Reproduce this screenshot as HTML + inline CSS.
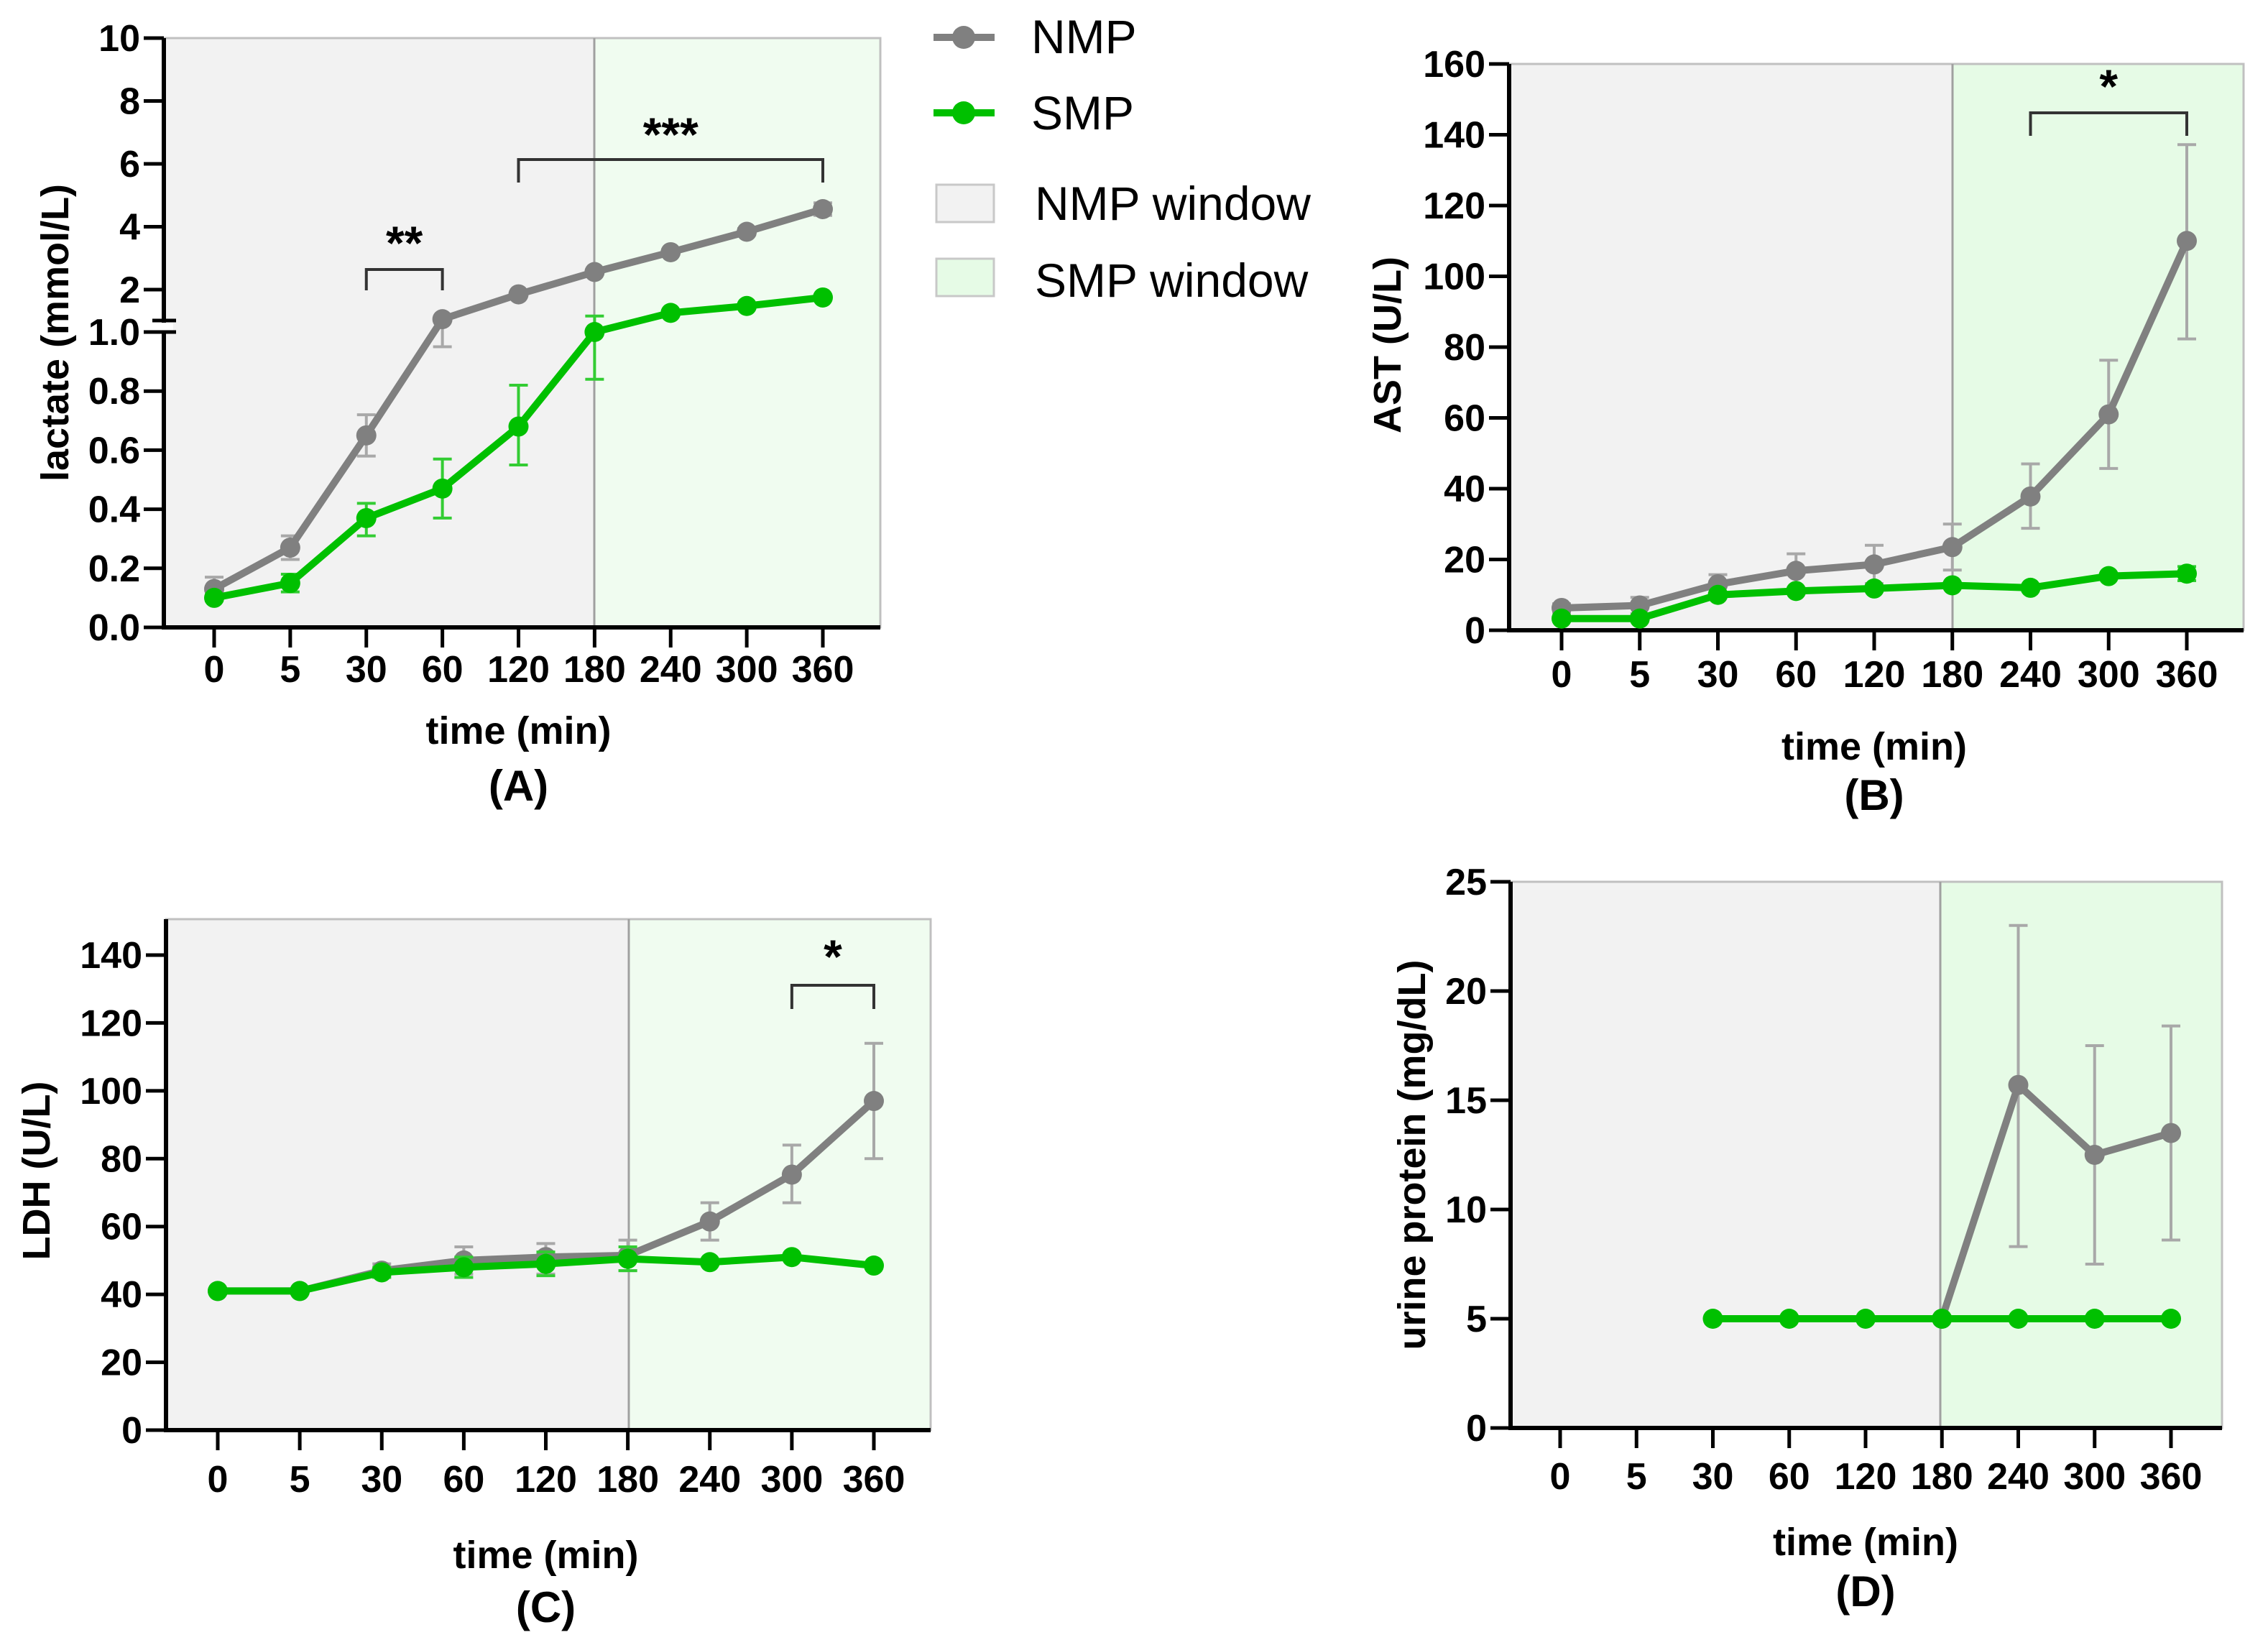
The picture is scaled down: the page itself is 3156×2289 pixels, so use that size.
<!DOCTYPE html>
<html><head><meta charset="utf-8"><style>
html,body{margin:0;padding:0;background:#fff;}
svg{display:block;font-family:"Liberation Sans",Arial,sans-serif;}
</style></head><body>
<svg id="fig" width="3156" height="2289" viewBox="0 0 3156 2289" xmlns="http://www.w3.org/2000/svg">
<g id="legend">
  <g>
    <line x1="1299" y1="52" x2="1384" y2="52" stroke="#808080" stroke-width="10"/>
    <circle cx="1341" cy="52" r="16" fill="#808080"/>
    <text x="1435" y="74" font-size="66" fill="#000">NMP</text>
  </g>
  <g>
    <line x1="1299" y1="157" x2="1384" y2="157" stroke="#00c000" stroke-width="10"/>
    <circle cx="1341" cy="157" r="16" fill="#00c000"/>
    <text x="1435" y="180" font-size="66" fill="#000">SMP</text>
  </g>
  <g>
    <rect x="1303" y="257" width="80" height="52" fill="#f2f2f2" stroke="#c8c8c8" stroke-width="3"/>
    <text x="1440" y="306" font-size="66" fill="#000">NMP window</text>
  </g>
  <g>
    <rect x="1303" y="360" width="80" height="52" fill="#e6fbe6" stroke="#c8c8c8" stroke-width="3"/>
    <text x="1440" y="413" font-size="66" fill="#000">SMP window</text>
  </g>
</g>
</svg>
<script>
// ---- shared categories ----
const timeLabels = ["0","5","30","60","120","180","240","300","360"];

// ---- Panel A: lactate ----
const lacNMP   = [0.13,0.27,0.65,1.06,1.85,2.56,3.19,3.84,4.56];
const lacNMPlo = [0.10,0.23,0.58,0.95,1.80,2.50,3.12,3.74,4.36];
const lacNMPhi = [0.17,0.31,0.72,1.12,1.90,2.62,3.26,3.94,4.76];
const lacSMP   = [0.10,0.15,0.37,0.47,0.68,1.00,1.26,1.48,1.75];
const lacSMPlo = [0.09,0.12,0.31,0.37,0.55,0.84,1.22,1.44,1.70];
const lacSMPhi = [0.11,0.18,0.42,0.57,0.82,1.16,1.30,1.52,1.80];
const lacTicksLow = [0,0.2,0.4,0.6,0.8,1.0];
const lacTicksHigh = [2,4,6,8,10];

// ---- Panel B: AST ----
const astNMP   = [6.3,7,13,16.8,18.6,23.5,37.8,61,110];
const astNMPlo = [5,4.7,10.3,12,13.2,17,28.8,45.7,82.3];
const astNMPhi = [7.5,9.3,15.7,21.6,24,30,47,76.3,137.2];
const astSMP   = [3.3,3.3,10,11.1,11.8,12.7,12,15.3,16];
const astSMPlo = [3.3,3.3,10,11.1,11.8,12.7,12,15.3,14];
const astSMPhi = [3.3,3.3,10,11.1,11.8,12.7,12,15.3,18];
const astTicks = [0,20,40,60,80,100,120,140,160];

// ---- Panel C: LDH ----
const ldhNMP   = [41,41,47,50,51,51.5,61.5,75.3,97];
const ldhNMPlo = [41,41,45,46,46,47,56,67,80];
const ldhNMPhi = [41,41,49,54,55,56,67,84,114];
const ldhSMP   = [41,41,46.5,48,49,50.5,49.5,51,48.5];
const ldhSMPlo = [41,41,45,45,45.5,47,49.5,51,48.5];
const ldhSMPhi = [41,41,48,51,52.5,54,49.5,51,48.5];
const ldhTicks = [0,20,40,60,80,100,120,140];

// ---- Panel D: urine protein ----
const upNMP   = [null,null,null,null,null,5,15.7,12.5,13.5];
const upNMPlo = [null,null,null,null,null,5,8.3,7.5,8.6];
const upNMPhi = [null,null,null,null,null,5,23,17.5,18.4];
const upSMP   = [null,null,5,5,5,5,5,5,5];
const upTicks = [0,5,10,15,20,25];

const NS = "http://www.w3.org/2000/svg";
const svg = document.getElementById('fig');
function mk(tag, attrs, parent){
  const e = document.createElementNS(NS, tag);
  for (const k in attrs) e.setAttribute(k, attrs[k]);
  (parent||svg).appendChild(e);
  return e;
}
const GRAY="#808080", GREEN="#00c000", ERRG="#a8a8a8", ERRGR="#33cc33";

function panel(cfg){
  const g = mk('g',{});
  
  
  const n = timeLabels.length;
  const xs = i => cfg.x0 + i*(cfg.x8-cfg.x0)/(n-1);
  const y = cfg.yScale;
  const bg1 = mk('rect',{x:cfg.ax, y:cfg.top, width:cfg.bound-cfg.ax, height:cfg.bottom-cfg.top, fill:"#f2f2f2"}, g);
  
  
  const bg2 = mk('rect',{x:cfg.bound, y:cfg.top, width:cfg.right-cfg.bound, height:cfg.bottom-cfg.top, fill:cfg.smpFill}, g);
  
  
  mk('rect',{x:cfg.ax, y:cfg.top, width:cfg.right-cfg.ax, height:cfg.bottom-cfg.top, fill:"none", stroke:"#c0c0c0", "stroke-width":3}, g);
  mk('line',{x1:cfg.bound,y1:cfg.top,x2:cfg.bound,y2:cfg.bottom,stroke:"#a0a0a0","stroke-width":3}, g);
  const xa = mk('line',{x1:cfg.ax-3,y1:cfg.bottom,x2:cfg.right,y2:cfg.bottom,stroke:"#000","stroke-width":6}, g);
  
  
  const ya = mk('line',{x1:cfg.ax,y1:cfg.top,x2:cfg.ax,y2:cfg.bottom+3,stroke:"#000","stroke-width":6}, g);
  
  
  timeLabels.forEach((lab,i)=>{
    const x = xs(i);
    mk('line',{x1:x,y1:cfg.bottom,x2:x,y2:cfg.bottom+28,stroke:"#000","stroke-width":5}, g);
    const t = mk('text',{x:x,y:cfg.tickY+18,"font-size":52,"font-weight":"bold","text-anchor":"middle"}, g);
    
    
    t.textContent = lab;
  });
  cfg.yTicks.forEach(v=>{
    const yy = y(v);
    mk('line',{x1:cfg.ax-28,y1:yy,x2:cfg.ax,y2:yy,stroke:"#000","stroke-width":5}, g);
    const t = mk('text',{x:cfg.ax-33,y:yy+18,"font-size":52,"font-weight":"bold","text-anchor":"end"}, g);
    
    
    t.textContent = cfg.fmt ? cfg.fmt(v) : String(v);
  });
  const xt = mk('text',{x:(cfg.x0+cfg.x8)/2,y:cfg.titleY+19,"font-size":54,"font-weight":"bold","text-anchor":"middle"}, g);
  
  
  xt.textContent = "time (min)";
  const pl = mk('text',{x:(cfg.x0+cfg.x8)/2,y:cfg.labY+21,"font-size":60,"font-weight":"bold","text-anchor":"middle"}, g);
  
  
  pl.textContent = cfg.label;
  const yt = mk('text',{x:0,y:0,"font-size":54,"font-weight":"bold","text-anchor":"middle",transform:`translate(${cfg.ytX+19},${cfg.ytY}) rotate(-90)`}, g);
  
  
  yt.textContent = cfg.yTitle;
  cfg.series.forEach(s=>{
    const sg = mk('g',{}, g);
    
    
    if (s.lo) s.vals.forEach((v,i)=>{
      if (v==null || s.lo[i]==null) return;
      const x = xs(i), y1 = y(s.lo[i]), y2 = y(s.hi[i]);
      if (Math.abs(y1-y2) < 2) return;
      const eb = mk('path',{d:`M${x},${y1}V${y2}M${x-13},${y1}H${x+13}M${x-13},${y2}H${x+13}`,stroke:s.err,"stroke-width":4,fill:"none"}, sg);
      
      
    });
    let d=""; s.vals.forEach((v,i)=>{ if(v==null) return; d += (d?"L":"M")+xs(i)+","+y(v); });
    const ln = mk('path',{d:d,stroke:s.color,"stroke-width":10,fill:"none","stroke-linejoin":"round"}, sg);
    
    
    s.vals.forEach((v,i)=>{
      if (v==null) return;
      const c = mk('circle',{cx:xs(i),cy:y(v),r:14,fill:s.color}, sg);
      
      
    });
  });
  (cfg.brackets||[]).forEach(b=>{
    const x1 = xs(b.i1), x2 = xs(b.i2);
    const bp = mk('path',{d:`M${x1},${b.legY}V${b.y}H${x2}V${b.legY}`,stroke:"#333","stroke-width":4,fill:"none"}, g);
    
    
    const st = mk('text',{x:(x1+x2)/2,y:b.starY+30,"font-size":66,"font-weight":"bold","text-anchor":"middle"}, g);
    
    
    st.textContent = b.stars;
  });
  return g;
}

function yA(v){ return v<=1 ? 873 - v*411 : 403 - (v-2)*43.75; }
const gA = panel({name:"panel-a-lactate", label:"(A)", yTitle:"lactate (mmol/L)",
  ax:228, right:1225, bound:827, top:53, bottom:873, x0:298, x8:1145, smpFill:"#f0fcf0",
  yScale:yA, yTicks:lacTicksLow.concat(lacTicksHigh), fmt:v=> v<=1 ? v.toFixed(1) : String(v),
  tickY:931, titleY:1016, labY:1093, ytX:76, ytY:463,
  series:[{name:"series-nmp",vals:lacNMP,lo:lacNMPlo,hi:lacNMPhi,color:GRAY,err:ERRG},
          {name:"series-smp",vals:lacSMP,lo:lacSMPlo,hi:lacSMPhi,color:GREEN,err:ERRGR}],
  brackets:[{i1:2,i2:3,y:375,legY:404,starY:331,stars:"**"},{i1:4,i2:8,y:222,legY:254,starY:180,stars:"***"}]});
mk('rect',{x:215,y:449,width:26,height:12,fill:"#fff"}, gA);
mk('line',{x1:212,y1:446,x2:245,y2:446,stroke:"#000","stroke-width":5}, gA);
mk('line',{x1:212,y1:462,x2:245,y2:462,stroke:"#000","stroke-width":5}, gA);

panel({name:"panel-b-ast", label:"(B)", yTitle:"AST (U/L)",
  ax:2100, right:3122, bound:2717, top:89, bottom:877, x0:2173, x8:3043, smpFill:"#e6fbe6",
  yScale:v=>877 - v*(877-89)/160, yTicks:astTicks,
  tickY:938, titleY:1038, labY:1106, ytX:1930, ytY:480,
  series:[{name:"series-nmp",vals:astNMP,lo:astNMPlo,hi:astNMPhi,color:GRAY,err:ERRG},
          {name:"series-smp",vals:astSMP,lo:astSMPlo,hi:astSMPhi,color:GREEN,err:ERRGR}],
  brackets:[{i1:6,i2:8,y:157,legY:189,starY:113,stars:"*"}]});

panel({name:"panel-c-ldh", label:"(C)", yTitle:"LDH (U/L)",
  ax:231, right:1295, bound:875, top:1279, bottom:1990, x0:303, x8:1216, smpFill:"#f0fcf0",
  yScale:v=>1990 - v*(1990-1329)/140, yTicks:ldhTicks,
  tickY:2058, titleY:2163, labY:2236, ytX:50, ytY:1629,
  series:[{name:"series-nmp",vals:ldhNMP,lo:ldhNMPlo,hi:ldhNMPhi,color:GRAY,err:ERRG},
          {name:"series-smp",vals:ldhSMP,lo:ldhSMPlo,hi:ldhSMPhi,color:GREEN,err:ERRGR}],
  brackets:[{i1:7,i2:8,y:1371,legY:1404,starY:1324,stars:"*"}]});

panel({name:"panel-d-urine-protein", label:"(D)", yTitle:"urine protein (mg/dL)",
  ax:2102, right:3092, bound:2700, top:1227, bottom:1987, x0:2171, x8:3021, smpFill:"#e6fbe6",
  yScale:v=>1987 - v*(1987-1227)/25, yTicks:upTicks,
  tickY:2054, titleY:2145, labY:2214, ytX:1964, ytY:1607,
  series:[{name:"series-nmp",vals:upNMP,lo:upNMPlo,hi:upNMPhi,color:GRAY,err:ERRG},
          {name:"series-smp",vals:upSMP,color:GREEN,err:ERRGR}]});
</script>
</body></html>
